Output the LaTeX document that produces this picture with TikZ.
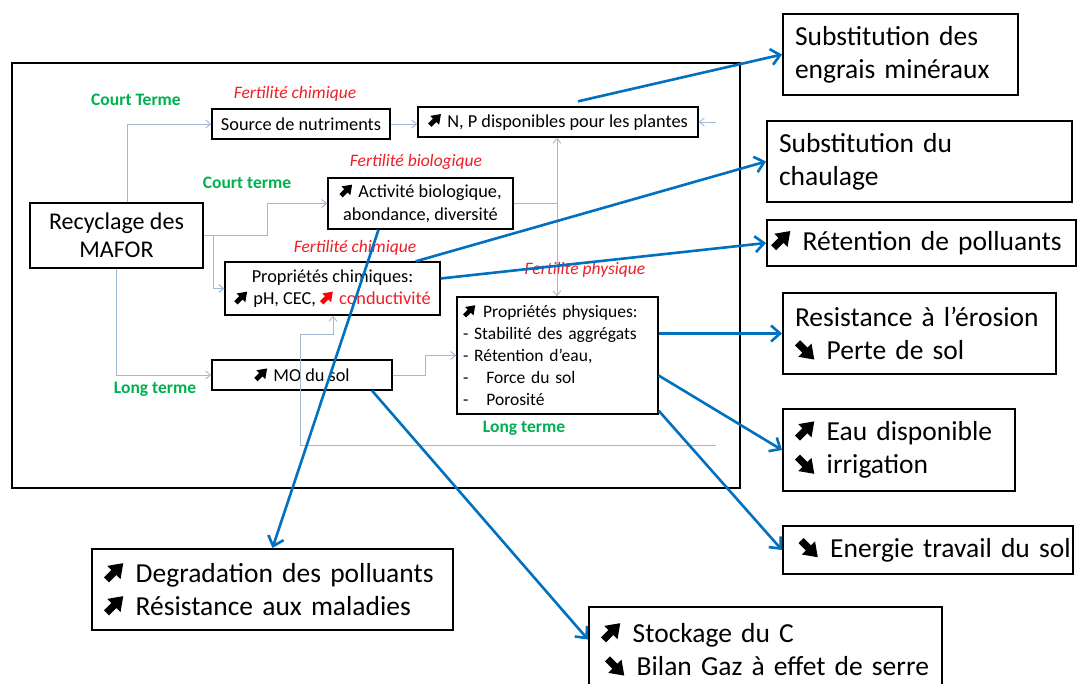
\documentclass[tikz,border=0pt]{standalone}
\usepackage{fontspec}
\setmainfont{Carlito}
\usetikzlibrary{arrows.meta, positioning}

\definecolor{termgreen}{RGB}{0,176,80}
\definecolor{fertred}{RGB}{240,30,40}
\definecolor{linkgray}{RGB}{160,185,215}
\definecolor{effectblue}{RGB}{0,112,192}

% fleches epaisses dans le texte
\newcommand\arrowshape{(0,-0.13) -- (0.38,-0.13) -- (0.38,-0.34) -- (0.86,0) -- (0.38,0.34) -- (0.38,0.13) -- (0,0.13) -- cycle}
\newcommand\upar[1][black]{\tikz[baseline=0pt, x=1em, y=1em]\fill[#1, shift={(0.1,0.1)}, rotate=45] \arrowshape;\hspace{0.12em}}
\newcommand\dnar[1][black]{\tikz[baseline=0pt, x=1em, y=1em]\fill[#1, shift={(0.1,0.61)}, rotate=-45] \arrowshape;\hspace{0.12em}}

\newcommand\smallfs{\fontsize{18.3}{22.5}\selectfont}
\newcommand\physfs{\fontsize{17.5}{22}\selectfont}
\newcommand\labfs{\fontsize{17.5}{21}\selectfont}
\newcommand\bigfs{\fontsize{27.5}{33}\selectfont}
\newcommand\recfs{\fontsize{24}{28}\selectfont}

\begin{document}
\begin{tikzpicture}[
        x=1pt, y=-1pt,
        box/.style={draw, line width=1.3pt, inner sep=3pt, align=center, font=\smallfs},
        outbox/.style={draw, line width=2pt, align=left, inner xsep=12pt, font=\bigfs},
        feed/.style={draw=linkgray, line width=0.9pt, -{Straight Barb[length=5pt, width=8pt]}},
        effect/.style={draw=effectblue, line width=2.6pt, -{Straight Barb[length=9pt, width=16pt]}}
    ]

    \tikzset{
    term/.style={text=termgreen, font=\labfs\bfseries},
    fert/.style={text=fertred, font=\labfs\itshape}
}

    \useasboundingbox (0,0) rectangle (1078,684);
    \fill[white] (0,0) rectangle (1078,684);

    % cadre
    \node[draw, line width=2.4pt, minimum width=728pt, minimum height=425pt] (frame) at (376,275.5) {};

    % boites internes
    \node[box, minimum width=173pt, minimum height=65pt, font=\recfs] (rec) at (116.5,235.5) {Recyclage des\\MAFOR};
    \node[box, minimum width=178pt, minimum height=30pt] (src) at (301,124) {Source de nutriments};
    \node[box, minimum width=280pt, minimum height=30pt] (np) at (558,122) {\upar\ N, P disponibles pour les plantes};
    \node[box, minimum width=185pt, minimum height=51pt] (bio) at (420.5,203.5) {\upar\ Activité biologique,\\abondance, diversité};
    \node[box, minimum width=215pt, minimum height=53pt] (chim) at (332.5,288.5) {Propriétés chimiques:\\\upar\ pH, CEC, \upar[red]\ \textcolor{fertred}{conductivité}};
    \node[box, minimum width=180pt, minimum height=30pt] (mo) at (302,375) {\upar\ MO du sol};
    \node[box, align=left, inner xsep=6pt, text width=189pt, minimum height=117pt, font=\physfs] (phys) at (557.5,355.5)
        {\upar\ Propriétés physiques:\\- Stabilité des aggrégats\\- Rétention d’eau,\\-\hspace{18pt}Force du sol\\-\hspace{18pt}Porosité};

    % libelles
    \node[term] (ct1) at (136,100) {Court Terme};
    \node[term] (ct2) at (247,183) {Court terme};
    \node[term] (lt1) at (155,389) {Long terme};
    \node[term] (lt2) at (524,428) {Long terme};
    \node[fert] (fc1) at (295,94) {Fertilité chimique};
    \node[fert] (fb) at (416,162) {Fertilité biologique};
    \node[fert] (fc2) at (355,248) {Fertilité chimique};
    \node[fert] (fp) at (585,270) {Fertilité physique};

    % effets
    \node[outbox, text width=211pt, minimum height=81pt] (eng) at (900.5,54.5) {Substitution des\\engrais minéraux};
    \node[outbox, text width=281pt, minimum height=81pt] (chaul) at (919.5,161.5) {Substitution du\\chaulage};
    \node[outbox, inner xsep=4pt, text width=301pt, minimum height=46pt] (ret) at (921.5,243) {\upar\ Rétention de polluants};
    \node[outbox, text width=249pt, minimum height=81pt] (ero) at (919.5,333.5) {Resistance à l’érosion\\\dnar\ Perte de sol};
    \node[outbox, text width=208pt, minimum height=82pt] (eau) at (899,450) {\upar\ Eau disponible\\\dnar\ irrigation};
    \node[outbox, inner xsep=2.5pt, text width=285pt, minimum height=48pt] (ener) at (928,550) {\mbox{\hspace{13pt}\dnar\ Energie travail du sol}};
    \node[outbox, text width=337pt, minimum height=81pt] (deg) at (272.5,589.5) {\upar\ Degradation des polluants\\\upar\ Résistance aux maladies};
    \node[outbox, text width=329pt, minimum height=85pt] (sto) at (765.5,649.5) {\upar\ Stockage du C\\\hspace{4pt}\dnar\ Bilan Gaz à effet de serre};

    % liaisons internes
    \coordinate (bj) at (557,203.5);
    \coordinate (rs) at (716,122);
    \coordinate (lp) at (300,445);
    \coordinate (rp) at (716,445);
    \coordinate (lk) at (300,334);
    \coordinate (ck) at (333,334);

    \draw[feed] ([xshift=10.5pt]rec.north) |- (src.west);
    \draw[feed] (rec.east) -- ++(64,0) |- (bio.west);
    \draw[feed] ([xshift=10pt]rec.east) |- (chim.west);
    \draw[feed] (rec.south) |- (mo.west);
    \draw[feed] (src.east) -- (src.east -| np.west);
    \draw[feed, -] (bio.east) -- (bj);
    \draw[feed] (bj) -- (bj |- np.south);
    \draw[feed] (bj) -- (bj |- phys.north);
    \draw[feed] (mo.east) -- ++(33,0) |- (phys.west);
    \draw[feed] (rs) -- (np.east);
    \draw[feed] (rp) -- (lp) -- (lk) -- (ck) -- (ck |- chim.south);

    % liaisons vers les effets
    \draw[effect] ([xshift=20pt, yshift=5pt]np.north) -- (eng.west);
    \draw[effect] ([xshift=-25pt]chim.north east) -- (chaul.west);
    \draw[effect] ([yshift=10pt]chim.east) -- (ret.west);
    \draw[effect] ([xshift=-42pt]bio.south) -- (deg.north);
    \draw[effect] (phys.east |- ero.west) -- (ero.west);
    \draw[effect] ([yshift=-20pt]phys.east) -- (eau.west);
    \draw[effect] ([yshift=4pt]phys.south east) -- (ener.west);
    \draw[effect] ([xshift=70pt]mo.south) -- ([yshift=10pt]sto.west);
    \end{tikzpicture}
\end{document}
